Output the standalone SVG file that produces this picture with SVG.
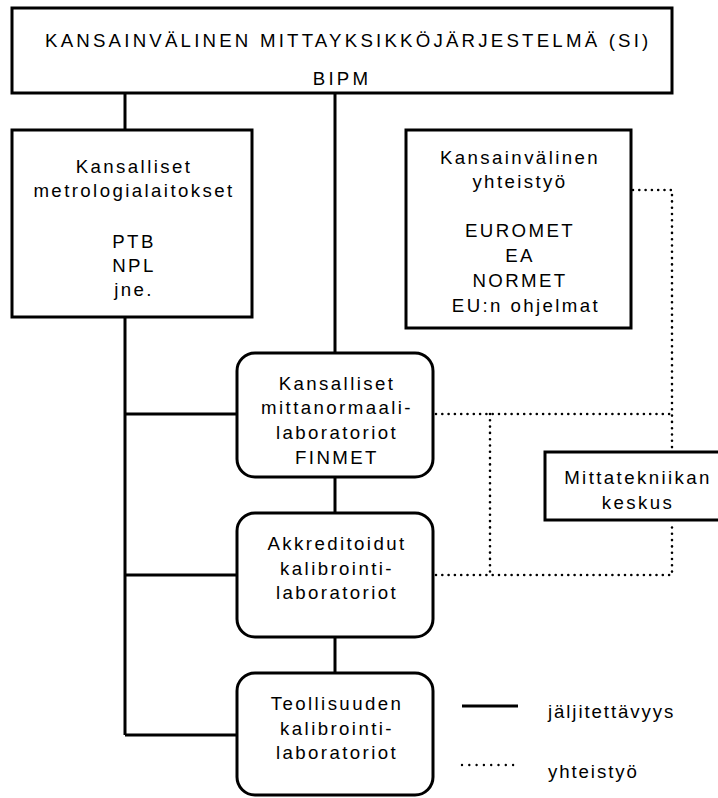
<svg xmlns="http://www.w3.org/2000/svg" width="718" height="798" viewBox="0 0 718 798">
<style>
.box{fill:#fff;stroke:#000;stroke-width:3}
.t{font-family:"Liberation Sans",Arial,sans-serif;font-size:18.67px;letter-spacing:2.4px;text-anchor:middle;fill:#000}
.top{letter-spacing:3.2px}
.lg{letter-spacing:1.9px;text-anchor:start}
.solid{stroke:#000;stroke-width:3;fill:none}
.dot{stroke:#000;stroke-width:2.6;fill:none;stroke-dasharray:0 6.3;stroke-linecap:round}
.dotl{stroke:#000;stroke-width:2.4;fill:none;stroke-dasharray:0 7.3;stroke-linecap:round}
</style>
<rect width="718" height="798" fill="#fff"/>
<g id="connectors">
<path class="solid" d="M125,93 V130"/>
<path class="solid" d="M125,317 V735"/>
<path class="solid" d="M125,414 H237"/>
<path class="solid" d="M125,575 H237"/>
<path class="solid" d="M125,735 H237"/>
<path class="solid" d="M335,93 V353"/>
<path class="solid" d="M335,477 V513"/>
<path class="solid" d="M335,637 V673"/>
<path class="dot" d="M633,190 H672 V452"/>
<path class="dot" d="M436,414 H672"/>
<path class="dot" d="M490,414 V575"/>
<path class="dot" d="M436,575 H672 V522"/>
</g>
<g id="legend">
<path class="solid" d="M462,706 H518"/>
<path class="dotl" d="M462,765 H519"/>
<text class="t lg" x="548" y="718">jäljitettävyys</text>
<text class="t lg" x="548" y="778">yhteistyö</text>
</g>
<g id="si">
<rect class="box" x="12" y="8" width="660" height="85"/>
<text class="t top" x="45" y="47" style="text-anchor:start">KANSAINVÄLINEN MITTAYKSIKKÖJÄRJESTELMÄ  (SI)</text>
<text class="t top" x="342" y="85">BIPM</text>
</g>
<g id="metrologialaitokset">
<rect class="box" x="12" y="130" width="240" height="187"/>
<text class="t" x="134" y="173">Kansalliset</text>
<text class="t" x="134" y="197">metrologialaitokset</text>
<text class="t" x="134" y="248">PTB</text>
<text class="t" x="134" y="272">NPL</text>
<text class="t" x="134" y="296">jne.</text>
</g>
<g id="yhteistyo">
<rect class="box" x="406" y="130" width="225" height="198"/>
<text class="t" x="520" y="164">Kansainvälinen</text>
<text class="t" x="520" y="188">yhteistyö</text>
<text class="t" x="520" y="237">EUROMET</text>
<text class="t" x="520" y="262">EA</text>
<text class="t" x="520" y="287">NORMET</text>
<text class="t" x="526" y="312">EU:n ohjelmat</text>
</g>
<g id="mittatekniikka">
<rect class="box" x="545" y="452" width="184" height="68"/>
<text class="t" x="638" y="484">Mittatekniikan</text>
<text class="t" x="638" y="509">keskus</text>
</g>
<g id="mittanormaali">
<rect class="box" x="237" y="353" width="196" height="124" rx="18"/>
<text class="t" x="337" y="390">Kansalliset</text>
<text class="t" x="337" y="414">mittanormaali-</text>
<text class="t" x="337" y="439">laboratoriot</text>
<text class="t" x="337" y="464">FINMET</text>
</g>
<g id="akkreditoidut">
<rect class="box" x="237" y="513" width="196" height="124" rx="18"/>
<text class="t" x="337" y="550">Akkreditoidut</text>
<text class="t" x="337" y="575">kalibrointi-</text>
<text class="t" x="337" y="599">laboratoriot</text>
</g>
<g id="teollisuus">
<rect class="box" x="237" y="673" width="196" height="122" rx="18"/>
<text class="t" x="337" y="710">Teollisuuden</text>
<text class="t" x="337" y="735">kalibrointi-</text>
<text class="t" x="337" y="759">laboratoriot</text>
</g>
</svg>
